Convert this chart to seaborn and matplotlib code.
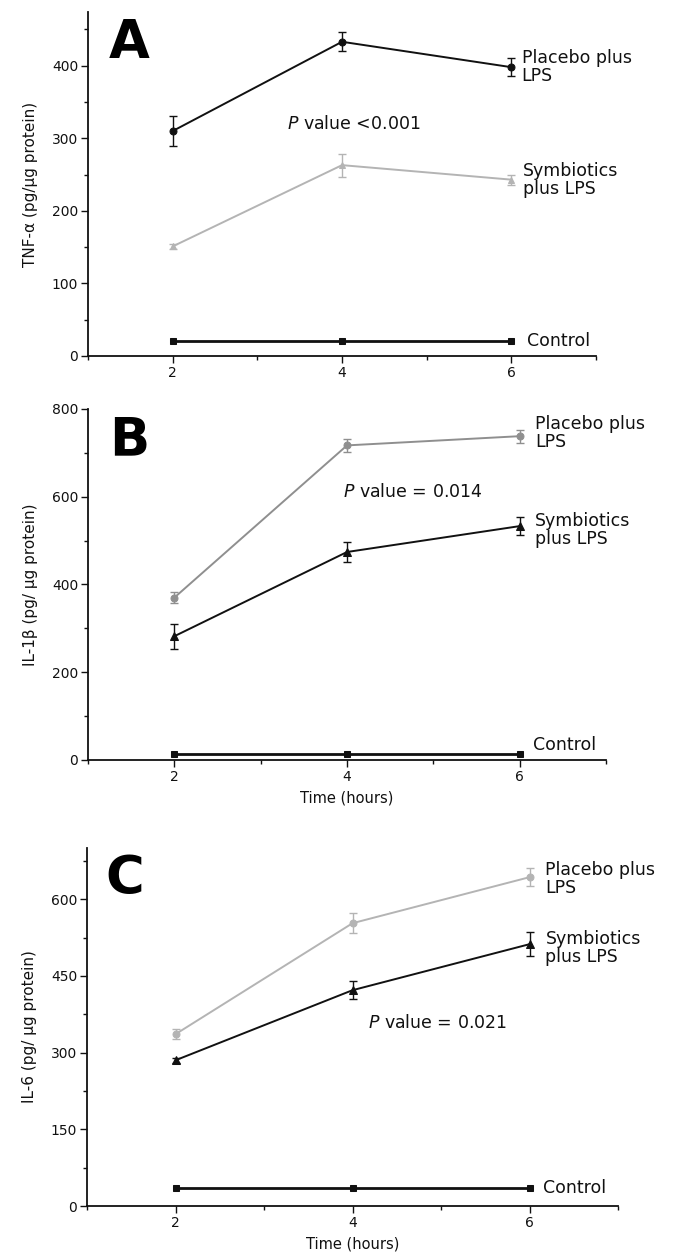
import numpy as np
import pandas as pd
import matplotlib
matplotlib.use("Agg")
import matplotlib.pyplot as plt
import seaborn as sns
from matplotlib.ticker import MultipleLocator

# time points (hours)
hours = [2, 4, 6]

# panel A: TNF-alpha
tnf_placebo = [310, 433, 398]
tnf_placebo_err = [21, 13, 12]
tnf_symb = [151, 263, 243]
tnf_symb_err = [3, 16, 7]
tnf_control = [21, 21, 21]

# panel B: IL-1beta
il1b_placebo = [370, 717, 738]
il1b_placebo_err = [12, 15, 15]
il1b_symb = [282, 474, 533]
il1b_symb_err = [28, 23, 20]
il1b_control = [13, 13, 13]

# panel C: IL-6
il6_placebo = [336, 553, 643]
il6_placebo_err = [10, 19, 17]
il6_symb = [285, 422, 512]
il6_symb_err = [5, 18, 24]
il6_control = [35, 35, 35]

sns.set_style("ticks")
plt.rcParams['font.family'] = ['DejaVu Sans']
plt.rcParams['text.color'] = '#111111'
plt.rcParams['axes.labelcolor'] = '#111111'
plt.rcParams['xtick.color'] = '#111111'
plt.rcParams['ytick.color'] = '#111111'

fig = plt.figure(figsize=(6.75, 12.53), dpi=100)
axA = fig.add_axes([0.1304, 0.7159, 0.7526, 0.2745])
axB = fig.add_axes([0.1304, 0.3935, 0.7674, 0.2801])
axC = fig.add_axes([0.1289, 0.0375, 0.7867, 0.2857])

BLACK = "#111111"
LIGHT = "#b4b4b4"
MID = "#8f8f8f"


def draw_series(ax, y, err, color, marker, ms):
    df = pd.DataFrame({"hours": hours, "value": y})
    sns.lineplot(data=df, x="hours", y="value", ax=ax, color=color,
                 marker=marker, markersize=ms, markeredgecolor=color,
                 linewidth=1.4, legend=False)
    if err is not None:
        ax.errorbar(hours, y, yerr=err, fmt="none", ecolor=color,
                    elinewidth=1.0, capsize=3, capthick=1.0)


def draw_control(ax, y):
    df = pd.DataFrame({"hours": hours, "value": y})
    sns.lineplot(data=df, x="hours", y="value", ax=ax, color=BLACK,
                 marker="s", markersize=4.5, markeredgecolor=BLACK,
                 linewidth=2.0, legend=False)


def style_axis(ax, ymax, major, minor, ylabel, xlabel):
    ax.set_xlim(1, 7)
    ax.set_ylim(0, ymax)
    ax.set_xticks([2, 4, 6])
    ax.xaxis.set_minor_locator(MultipleLocator(1))
    ax.yaxis.set_major_locator(MultipleLocator(major))
    ax.yaxis.set_minor_locator(MultipleLocator(minor))
    ax.tick_params(axis="both", which="major", length=5, width=1.0,
                   labelsize=10, color=BLACK, pad=2)
    ax.tick_params(axis="both", which="minor", length=3, width=1.0, color=BLACK)
    ax.set_ylabel(ylabel, fontsize=11, labelpad=10)
    ax.set_xlabel(xlabel, fontsize=10.5, labelpad=5)
    sns.despine(ax=ax)
    for s in ("left", "bottom"):
        ax.spines[s].set_linewidth(1.3)
        ax.spines[s].set_color(BLACK)


# ---- A ----
draw_series(axA, tnf_placebo, tnf_placebo_err, BLACK, "o", 5)
draw_series(axA, tnf_symb, tnf_symb_err, LIGHT, "^", 5)
draw_control(axA, tnf_control)
style_axis(axA, 474, 100, 50, "TNF-\u03b1 (pg/\u03bcg protein)", "")
axA.text(0.04, 0.985, "A", transform=axA.transAxes, fontsize=38,
         fontweight="bold", va="top", ha="left", color="black")
axA.text(3.35, 320, r"$\it{P}$ value <0.001", fontsize=12.5, va="center")
axA.text(6.12, 398, "Placebo plus\nLPS", fontsize=12.5, va="center",
         linespacing=1.0)
axA.text(6.14, 243, "Symbiotics\nplus LPS", fontsize=12.5, va="center",
         linespacing=1.0)
axA.text(6.18, 21, "Control", fontsize=12.5, va="center")

# ---- B ----
draw_series(axB, il1b_placebo, il1b_placebo_err, MID, "o", 5)
draw_series(axB, il1b_symb, il1b_symb_err, BLACK, "^", 6)
draw_control(axB, il1b_control)
style_axis(axB, 800, 200, 100, "IL-1\u03b2 (pg/ \u03bcg protein)", "Time (hours)")
axB.text(0.04, 0.985, "B", transform=axB.transAxes, fontsize=38,
         fontweight="bold", va="top", ha="left", color="black")
axB.text(3.95, 610, r"$\it{P}$ value = 0.014", fontsize=12.5, va="center")
axB.text(6.18, 745, "Placebo plus\nLPS", fontsize=12.5, va="center",
         linespacing=1.0)
axB.text(6.18, 525, "Symbiotics\nplus LPS", fontsize=12.5, va="center",
         linespacing=1.0)
axB.text(6.15, 35, "Control", fontsize=12.5, va="center")

# ---- C ----
draw_series(axC, il6_placebo, il6_placebo_err, LIGHT, "o", 5)
draw_series(axC, il6_symb, il6_symb_err, BLACK, "^", 6)
draw_control(axC, il6_control)
style_axis(axC, 700, 150, 75, "IL-6 (pg/ \u03bcg protein)", "Time (hours)")
axC.text(0.035, 0.985, "C", transform=axC.transAxes, fontsize=38,
         fontweight="bold", va="top", ha="left", color="black")
axC.text(4.18, 358, r"$\it{P}$ value = 0.021", fontsize=12.5, va="center")
axC.text(6.18, 640, "Placebo plus\nLPS", fontsize=12.5, va="center",
         linespacing=1.0)
axC.text(6.18, 505, "Symbiotics\nplus LPS", fontsize=12.5, va="center",
         linespacing=1.0)
axC.text(6.15, 35, "Control", fontsize=12.5, va="center")

fig.savefig("out.png", dpi=100)
